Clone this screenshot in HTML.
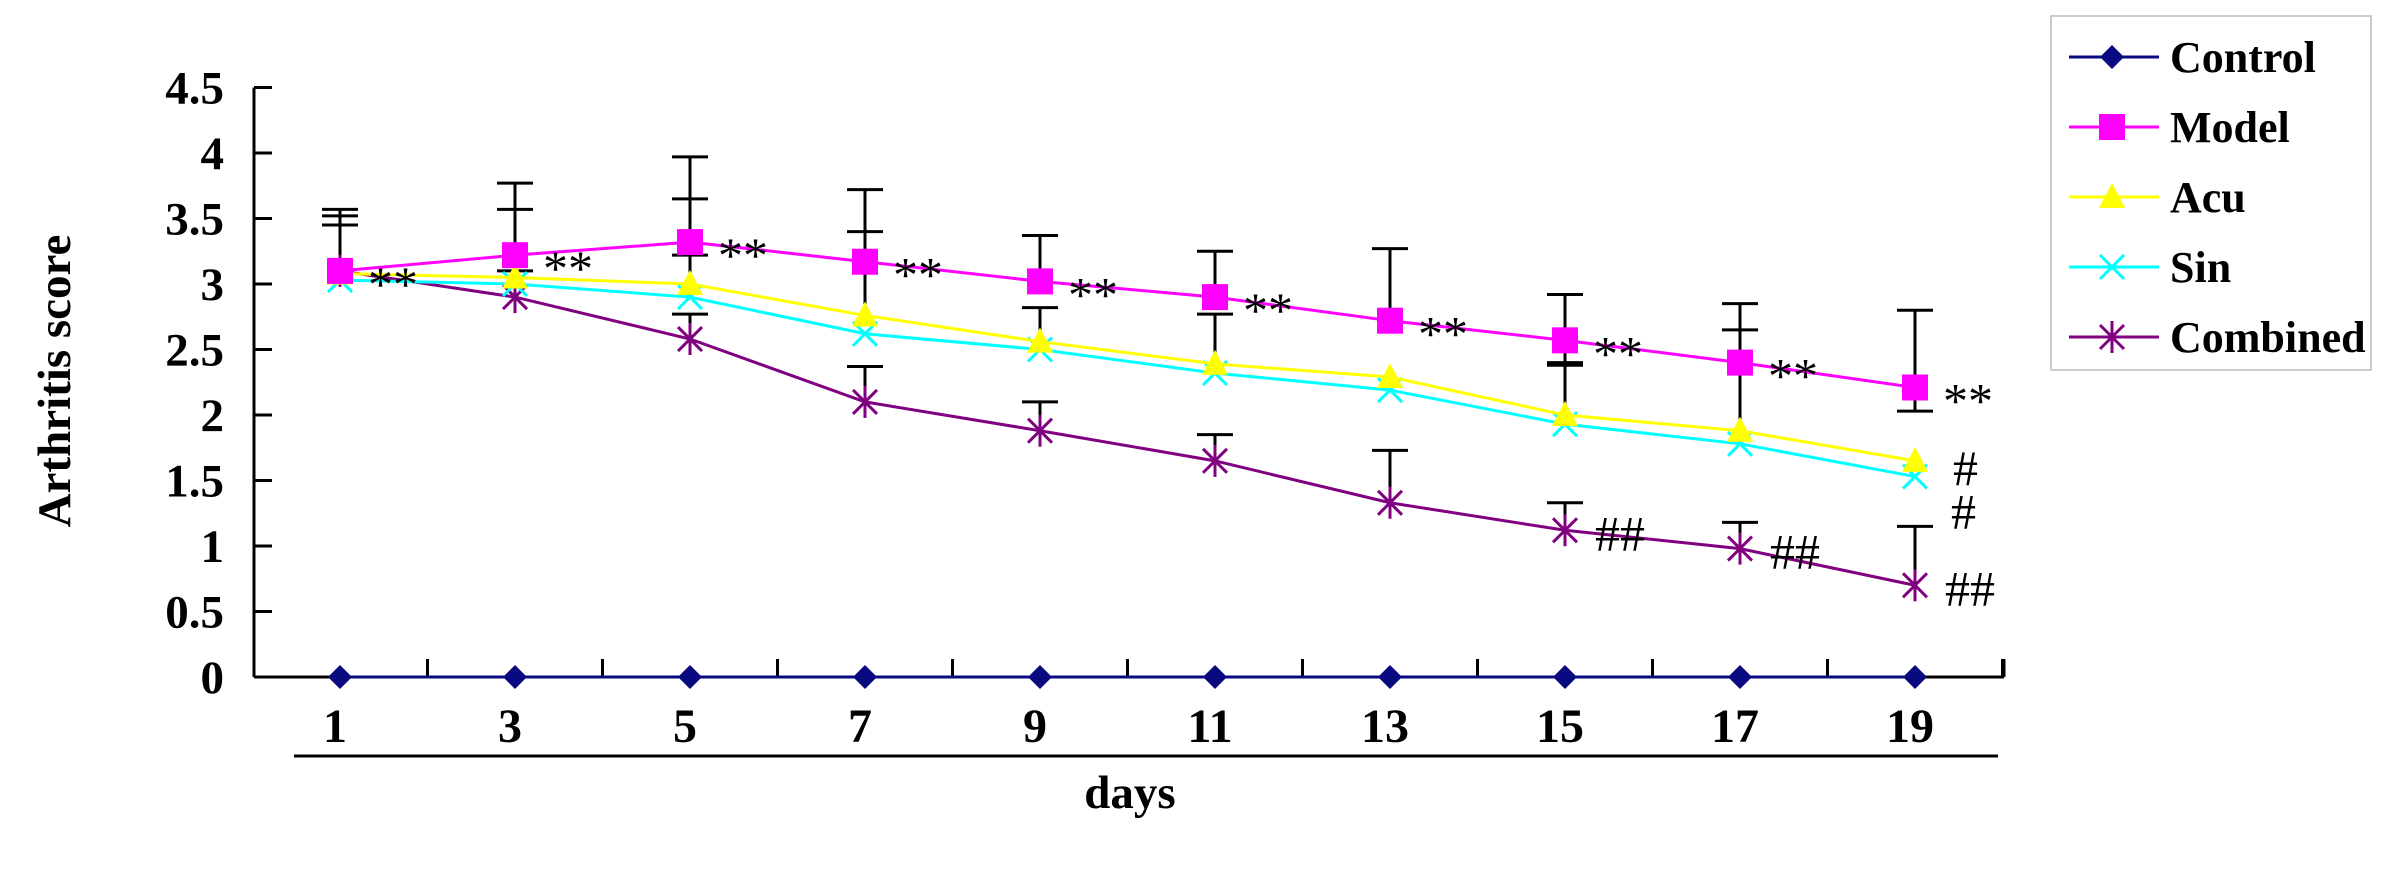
<!DOCTYPE html>
<html><head><meta charset="utf-8">
<style>
html,body{margin:0;padding:0;background:#fff;}
svg{display:block;font-family:"Liberation Serif",serif;font-weight:bold;}
</style></head>
<body>
<svg id="chart" width="2400" height="882" viewBox="0 0 2400 882" xmlns="http://www.w3.org/2000/svg"></svg>
<script>
const days = [1,3,5,7,9,11,13,15,17,19];
const yTicks = [0,0.5,1,1.5,2,2.5,3,3.5,4,4.5];
const yTickLabels = ["0","0.5","1","1.5","2","2.5","3","3.5","4","4.5"];
const control = [0,0,0,0,0,0,0,0,0,0];
const model = [3.1,3.22,3.32,3.17,3.02,2.9,2.72,2.57,2.4,2.21];
const acu = [3.08,3.05,3.0,2.76,2.56,2.39,2.29,2.0,1.88,1.65];
const sin = [3.03,3.0,2.9,2.62,2.5,2.32,2.19,1.93,1.78,1.53];
const combined = [3.1,2.9,2.58,2.1,1.88,1.65,1.33,1.12,0.98,0.7];
const modelUpper = [3.57,3.77,3.97,3.72,3.37,3.25,3.27,2.92,2.85,2.8];
const modelLower = [null,null,3.22,null,null,null,null,2.38,null,2.03];
const acuUpper = [3.45,3.57,3.65,3.4,2.82,2.77,null,2.4,2.65,null];
const combinedUpper = [3.52,3.1,2.77,2.37,2.1,1.85,1.73,1.33,1.18,1.15];
const modelMarks = ["**","**","**","**","**","**","**","**","**","**"];
const acuMarks = [null,null,null,null,null,null,null,null,null,"#"];
const sinMarks = [null,null,null,null,null,null,null,null,null,"#"];
const combinedMarks = [null,null,null,null,null,null,null,"##","##","##"];

const NS="http://www.w3.org/2000/svg";
const svg=document.getElementById('chart');
const X0=340, DX=175, Y0=677, PY=131, AX=254, AXEND=2004;
const xs=i=>X0+i*DX;
const ys=v=>Y0-v*PY;
function el(tag,attrs,parent){const e=document.createElementNS(NS,tag);for(const k in attrs)e.setAttribute(k,attrs[k]);(parent||svg).appendChild(e);return e;}

const axY=el('line',{x1:AX,y1:ys(4.5),x2:AX,y2:Y0,stroke:'#000','stroke-width':3});


const axX=el('line',{x1:AX,y1:Y0,x2:AXEND,y2:Y0,stroke:'#000','stroke-width':3});


const bl=el('line',{x1:294,y1:756,x2:1998,y2:756,stroke:'#000','stroke-width':3});



yTicks.forEach((v,i)=>{
  const t=el('line',{x1:AX,y1:ys(v),x2:AX+18,y2:ys(v),stroke:'#000','stroke-width':3});
  
  
  const tx=el('text',{x:224,y:ys(v)+16,'text-anchor':'end','font-size':47});
  tx.textContent=yTickLabels[i];
  
  
});
for(let i=0;i<days.length;i++){
  const xm=xs(i)+DX/2;
  const t=el('line',{x1:xm,y1:Y0,x2:xm,y2:Y0-18,stroke:'#000','stroke-width':3});
  
  
  const tx=el('text',{x:xs(i)-5,y:742,'text-anchor':'middle','font-size':48});
  tx.textContent=days[i];
  
  
}
const endTick=el('line',{x1:AXEND,y1:Y0,x2:AXEND,y2:Y0-18,stroke:'#000','stroke-width':3});


const yt=el('text',{x:0,y:0,'text-anchor':'middle','font-size':47,transform:'translate(70,381) rotate(-90)'});
yt.textContent='Arthritis score';


const xt=el('text',{x:1130,y:808,'text-anchor':'middle','font-size':47});
xt.textContent='days';



function errs(arr,base){
  arr.forEach((v,i)=>{ if(v==null) return;
    const x=xs(i);
    const l=el('line',{x1:x,y1:ys(base[i]),x2:x,y2:ys(v),stroke:'#000','stroke-width':3});
    
    
    const c=el('line',{x1:x-18,y1:ys(v),x2:x+18,y2:ys(v),stroke:'#000','stroke-width':3});
    
    
  });
}
errs(modelUpper,model); errs(modelLower,model); errs(acuUpper,acu); errs(combinedUpper,combined);

function marker(type,x,y,color,g){
  if(type==='diamond') el('polygon',{points:`${x},${y-12} ${x+12},${y} ${x},${y+12} ${x-12},${y}`,fill:color},g);
  else if(type==='square') el('rect',{x:x-13,y:y-13,width:26,height:26,fill:color},g);
  else if(type==='triangle') el('polygon',{points:`${x},${y-14} ${x+13},${y+11} ${x-13},${y+11}`,fill:color},g);
  else if(type==='x'){el('path',{d:`M${x-12} ${y-12}L${x+12} ${y+12}M${x-12} ${y+12}L${x+12} ${y-12}`,stroke:color,'stroke-width':3,fill:'none'},g);}
  else if(type==='star'){el('path',{d:`M${x-12} ${y-12}L${x+12} ${y+12}M${x-12} ${y+12}L${x+12} ${y-12}M${x} ${y-16}L${x} ${y+16}`,stroke:color,'stroke-width':3,fill:'none'},g);}
}
const series=[
  {name:'Control',data:control,color:'#0a0a80',m:'diamond',key:'control'},
  {name:'Model',data:model,color:'#ff00ff',m:'square',key:'model'},
  {name:'Acu',data:acu,color:'#ffff00',m:'triangle',key:'acu'},
  {name:'Sin',data:sin,color:'#00ffff',m:'x',key:'sin'},
  {name:'Combined',data:combined,color:'#800080',m:'star',key:'combined'}
];
[4,3,2,1,0].forEach(si=>{
  const s=series[si];
  const g=el('g',{});
  
  
  el('polyline',{points:s.data.map((v,i)=>xs(i)+','+ys(v)).join(' '),fill:'none',stroke:s.color,'stroke-width':3},g);
  s.data.forEach((v,i)=>marker(s.m,xs(i),ys(v),s.color,g));
});

function marks(arr,base,dx,dy){
  arr.forEach((m,i)=>{ if(!m) return;
    const t=el('text',{x:xs(i)+dx,y:ys(base[i])+dy,'font-size':50,'font-weight':'normal'});
    t.textContent=m;
    
    
  });
}
marks(modelMarks,model,28,30);
marks(acuMarks,acu,38,24);
marks(sinMarks,sin,36,52);
marks(combinedMarks,combined,30,20);

const lg=el('g',{});


el('rect',{x:2051,y:16,width:320,height:354,fill:'#fff',stroke:'#ccc','stroke-width':2},lg);
const ly=[57,127,197,267,337];
series.forEach((s,i)=>{
  const g=el('g',{},lg);
  
  
  el('line',{x1:2069,y1:ly[i],x2:2159,y2:ly[i],stroke:s.color,'stroke-width':3},g);
  marker(s.m,2112,ly[i],s.color,g);
  const t=el('text',{x:2170,y:ly[i]+15,'font-size':44},g);
  t.textContent=s.name;
});
</script>
</body></html>
